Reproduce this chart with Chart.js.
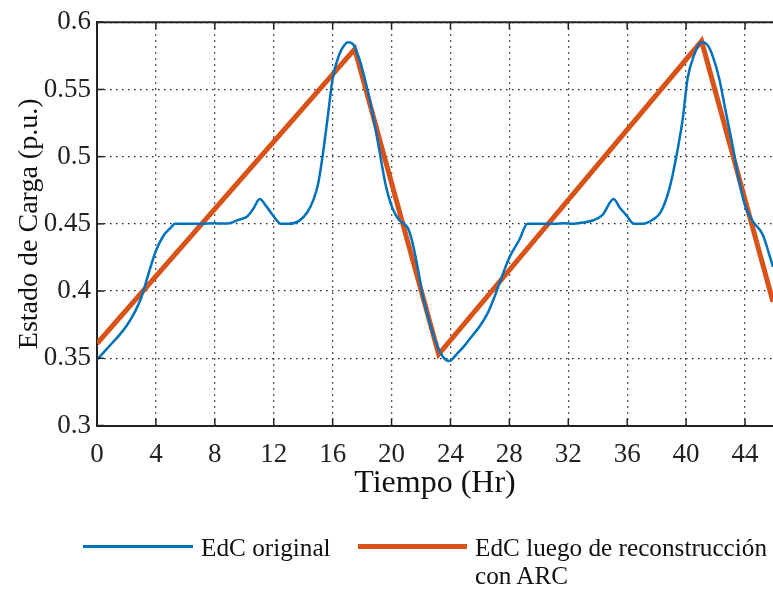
<!DOCTYPE html>
<html>
<head>
<meta charset="utf-8">
<script src="https://cdn.jsdelivr.net/npm/chart.js@4/dist/chart.umd.min.js"></script>
<style>
    html, body { margin: 0; padding: 0; background: #fff; }
    #contenedor { position: relative; width: 773px; height: 590px; }
    #grafico { position: absolute; left: 0; top: 0; }
    .leyenda-linea { position: absolute; }
    .leyenda-texto {
        position: absolute;
        font-family: 'Liberation Serif', 'DejaVu Serif', serif;
        font-size: 26px;
        line-height: 28px;
        color: #111;
        white-space: nowrap;
        transform: scaleX(0.97);
        transform-origin: left top;
    }
</style>
</head>
<body>
<div id="contenedor">
    <canvas id="grafico" width="773" height="590"></canvas>
    <div class="leyenda-linea" style="left:83px; top:545px; width:110px; height:3px; background:#0072BD;"></div>
    <div class="leyenda-texto" style="left:201px; top:534px;">EdC original</div>
    <div class="leyenda-linea" style="left:358px; top:544px; width:109px; height:5px; background:#D95319;"></div>
    <div class="leyenda-texto" style="left:475px; top:534px;">EdC luego de reconstrucción<br>con ARC</div>
</div>

<script>
// Datos
const tiempoOriginal = [
    0, 0.5, 1, 1.5, 2, 2.5, 3, 3.5, 4, 4.5, 5, 5.3, 6, 7, 8, 8.5, 9, 9.6, 10.2, 10.6,
    11.05, 11.5, 11.9, 12.5, 13, 13.7, 14.3, 14.7, 15, 15.3, 15.65, 16, 16.45, 16.8, 17.05, 17.35,
    17.8, 18.25, 18.7, 19.15, 19.6, 20.05, 20.5, 21.1, 21.4, 21.9, 22.05, 22.5, 23, 23.5, 23.9,
    24.5, 25, 25.5, 26, 26.5, 27, 27.3, 28, 28.67, 29.23, 30, 31, 31.8, 32.3, 33, 33.65, 34.33,
    35.08, 35.5, 35.92, 36.48, 37.05, 37.73, 38.29, 38.86, 39.31, 39.77, 40.1, 40.56, 40.85, 41.12,
    41.45, 41.8, 42.25, 42.7, 43.16, 43.61, 44.07, 44.52, 45.2, 45.65, 45.9
];
const edcOriginal = [
    0.349, 0.355, 0.361, 0.367, 0.374, 0.383, 0.395, 0.413, 0.43, 0.441, 0.447, 0.450, 0.450, 0.450, 0.4505, 0.4502, 0.4505, 0.453, 0.4555, 0.461,
    0.4685, 0.463, 0.457, 0.450, 0.450, 0.452, 0.459, 0.468, 0.479, 0.499, 0.528, 0.558, 0.576, 0.583, 0.585, 0.584,
    0.573, 0.555, 0.533, 0.506, 0.479, 0.462, 0.453, 0.447, 0.437, 0.41, 0.40, 0.38, 0.362, 0.351, 0.348,
    0.354, 0.360, 0.367, 0.374, 0.383, 0.396, 0.405, 0.425, 0.438, 0.450, 0.450, 0.450, 0.4505, 0.450, 0.451, 0.4525, 0.4567,
    0.4685, 0.462, 0.4567, 0.450, 0.450, 0.453, 0.459, 0.476, 0.4986, 0.528, 0.558, 0.576, 0.583, 0.585,
    0.583, 0.575, 0.558, 0.533, 0.508, 0.481, 0.4616, 0.452, 0.442, 0.427, 0.418
];

const tiempoArc = [0, 17.5, 23.2, 41.05, 45.9];
const edcArc = [0.361, 0.580, 0.353, 0.586, 0.392];

const ticksX = [0, 4, 8, 12, 16, 20, 24, 28, 32, 36, 40, 44];
const ticksY = [0.3, 0.35, 0.4, 0.45, 0.5, 0.55, 0.6];

const fuente = "'Liberation Serif', 'DejaVu Serif', serif";

// Marcas hacia adentro y borde superior (estilo MATLAB)
const marcasInternas = {
    id: 'marcasInternas',
    afterDatasetsDraw(chart) {
        const { ctx, chartArea, scales } = chart;
        const largo = 7;
        ctx.save();
        ctx.strokeStyle = '#222';
        ctx.lineWidth = 2;
        ctx.beginPath();
        ctx.moveTo(chartArea.left, chartArea.top);
        ctx.lineTo(chartArea.right, chartArea.top);
        ctx.stroke();
        ctx.lineWidth = 1.5;
        ticksX.forEach(v => {
            const px = scales.x.getPixelForValue(v);
            ctx.beginPath();
            ctx.moveTo(px, chartArea.bottom);
            ctx.lineTo(px, chartArea.bottom - largo);
            ctx.moveTo(px, chartArea.top);
            ctx.lineTo(px, chartArea.top + largo);
            ctx.stroke();
        });
        ticksY.forEach(v => {
            const py = scales.y.getPixelForValue(v);
            ctx.beginPath();
            ctx.moveTo(chartArea.left, py);
            ctx.lineTo(chartArea.left + largo, py);
            ctx.stroke();
        });
        ctx.restore();
    }
};

const ctxGrafico = document.getElementById('grafico').getContext('2d');
const grafico = new Chart(ctxGrafico, {
    type: 'line',
    data: {
        datasets: [{
            label: 'EdC original',
            data: tiempoOriginal.map((t, i) => ({ x: t, y: edcOriginal[i] })),
            borderColor: '#0072BD',
            borderWidth: 2.5,
            pointRadius: 0,
            cubicInterpolationMode: 'monotone',
            fill: false
        }, {
            label: 'EdC luego de reconstrucción con ARC',
            data: tiempoArc.map((t, i) => ({ x: t, y: edcArc[i] })),
            borderColor: '#D95319',
            borderWidth: 5,
            borderJoinStyle: 'miter',
            pointRadius: 0,
            tension: 0,
            fill: false
        }]
    },
    plugins: [marcasInternas],
    options: {
        responsive: false,
        animation: false,
        layout: { padding: { left: 0, right: 0, top: 20, bottom: 0 } },
        plugins: {
            legend: { display: false },
            tooltip: { enabled: false }
        },
        scales: {
            x: {
                type: 'linear',
                min: 0,
                max: 45.9,
                afterFit: scale => { scale.height = 164.5; },
                afterBuildTicks: scale => { scale.ticks = ticksX.map(v => ({ value: v })); },
                ticks: {
                    includeBounds: false,
                    padding: 13,
                    color: '#222',
                    font: { family: fuente, size: 27 },
                    maxRotation: 0
                },
                grid: {
                    color: '#222',
                    lineWidth: 1.3,
                    drawTicks: false
                },
                border: { display: true, color: '#222', width: 2, dash: [1.5, 4.5] },
                title: {
                    display: true,
                    text: 'Tiempo (Hr)',
                    color: '#111',
                    font: { family: fuente, size: 32 },
                    padding: { top: 0, bottom: 87 }
                }
            },
            y: {
                min: 0.3,
                max: 0.6,
                afterFit: scale => { scale.width = 97; },
                afterBuildTicks: scale => { scale.ticks = ticksY.map(v => ({ value: v })); },
                ticks: {
                    padding: 6,
                    color: '#222',
                    font: { family: fuente, size: 27 },
                    callback: v => String(Number(v.toFixed(2)))
                },
                grid: {
                    color: '#222',
                    lineWidth: 1.3,
                    drawTicks: false
                },
                border: { display: true, color: '#222', width: 2, dash: [1.5, 4.5] },
                title: {
                    display: true,
                    text: 'Estado de Carga (p.u.)',
                    color: '#111',
                    font: { family: fuente, size: 28 },
                    padding: { top: 13, bottom: 0 }
                }
            }
        }
    }
});
</script>
</body>
</html>
